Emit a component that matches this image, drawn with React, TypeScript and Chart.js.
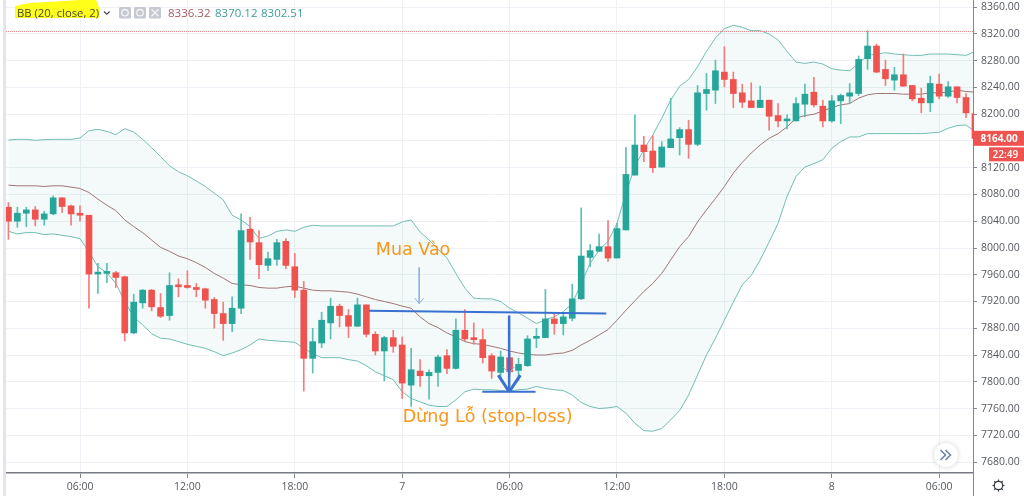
import React, { useEffect, useRef } from "react";
import { Chart, registerables } from "chart.js";

Chart.register(...registerables);

const opens = [8061,8040,8052,8057,8043,8051,8075,8063,8051,8049,7961,7962,7963,7957,7873,7918,7937,7911,7899,7944,7943,7941,7939,7923,7902,7887,7910,8028,8008,7974,7983,8010,7972,7937,7835,7858,7888,7913,7899,7883,7915,7871,7846,7866,7855,7795,7816,7809,7814,7839,7820,7877,7865,7863,7839,7814,7836,7817,7824,7865,7866,7894,7887,7895,7924,7986,7995,8002,7985,8027,8109,8154,8145,8121,8150,8165,8177,8155,8231,8236,8263,8252,8232,8220,8210,8221,8198,8190,8190,8215,8233,8212,8190,8220,8227,8231,8283,8302,8267,8251,8259,8243,8224,8217,8245,8227,8241,8225,8201];
const closes = [8040,8052,8057,8043,8051,8075,8062,8051,8049,7961,7963,7963,7956,7873,7919,7937,7912,7898,7944,7942,7941,7938,7922,7902,7887,7910,8026,8009,7975,7984,8008,7974,7937,7835,7860,7892,7913,7899,7883,7915,7871,7846,7866,7853,7798,7818,7809,7814,7837,7820,7877,7864,7863,7836,7816,7837,7815,7826,7864,7867,7894,7887,7897,7924,7988,7996,8002,7985,8029,8110,8154,8144,8120,8151,8163,8177,8155,8232,8237,8265,8252,8231,8218,8210,8221,8197,8190,8192,8216,8230,8214,8190,8220,8228,8232,8282,8302,8263,8253,8259,8242,8223,8217,8246,8227,8241,8225,8202,8164];
const highs = [8068,8061,8061,8062,8055,8078,8075,8064,8063,8049,7977,7977,7965,7958,7931,7938,7938,7932,7963,7954,7966,7947,7940,7926,7919,7927,8051,8046,8026,7994,8013,8014,7992,7950,7880,7904,7925,7916,7908,7925,7915,7875,7868,7877,7867,7850,7833,7818,7840,7848,7894,7908,7888,7879,7842,7846,7842,7835,7869,7880,7938,7902,7903,7946,8060,8005,8021,8041,8037,8150,8199,8167,8168,8159,8224,8180,8191,8243,8261,8281,8301,8263,8245,8247,8242,8221,8216,8199,8225,8245,8255,8221,8228,8230,8246,8287,8325,8305,8281,8270,8290,8243,8239,8257,8260,8249,8241,8231,8201];
const lows = [8013,8031,8032,8033,8034,8050,8053,8034,8040,7910,7932,7948,7941,7861,7872,7910,7906,7896,7892,7927,7940,7927,7910,7880,7862,7875,7902,7983,7954,7966,7974,7969,7926,7786,7813,7851,7864,7882,7866,7883,7867,7840,7801,7844,7775,7763,7793,7774,7793,7812,7819,7861,7856,7828,7805,7803,7808,7802,7823,7851,7866,7871,7870,7891,7923,7972,7995,7980,7985,8027,8109,8129,8113,8121,8150,8139,8134,8153,8206,8216,8241,8210,8210,8210,8210,8176,8181,8178,8190,8196,8211,8181,8188,8186,8216,8228,8267,8262,8243,8236,8242,8220,8202,8204,8223,8225,8217,8195,8163];

const upperBand = [8161.5,8162.5,8162.5,8161,8162,8162.5,8162.5,8162.5,8164.5,8175.4,8177.4,8174.4,8169.4,8178.4,8173.4,8162.5,8150,8136.6,8123,8114,8108,8100,8092,8082,8072,8049,8042,8032,8014.5,8018,8025,8027,8025,8031,8034,8033,8033,8033,8033,8033,8033,8033,8033,8033,8039,8042,8024,8012,7998,7985,7962,7940,7925,7924,7924,7920,7910,7903,7895,7887,7893,7897,7905,7917,7947,7977,7997,8010,8037,8082,8122,8147,8169,8194,8221,8242,8252,8271,8294,8314,8328,8333,8330,8325,8325,8320,8311,8294,8278,8276,8278,8275,8268,8266,8265,8276,8288,8290,8292,8290,8289,8288,8288,8290,8290,8290,8289,8288,8294];
const middleBand = [8094,8093,8093,8093,8092,8093,8093,8091,8089,8083,8073,8064,8056,8042,8032,8023,8012,8001,7995,7988,7984,7978,7971,7962,7955,7947,7945,7944,7941,7940,7940,7942,7943,7940,7937,7936,7936,7935,7934,7931,7927,7923,7920,7917,7913,7910,7897,7887,7881,7873,7867,7860,7857,7856,7853,7850,7846,7843,7841,7840,7840,7842,7843,7847,7855,7862,7870,7878,7892,7907,7921,7935,7947,7962,7982,8002,8017,8039,8057,8074,8092,8112,8128,8142,8154,8164,8171,8181,8194,8198,8200,8205,8210,8214,8216,8224,8229,8231,8231,8231,8230,8230,8230,8232,8232,8233,8236,8234,8233];
const lowerBand = [8025,8021,8023,8023,8020,8021,8019,8017,8014,7994,7972,7963,7947,7920,7897,7885,7872,7865,7864,7860,7856,7853,7850,7845,7839,7843,7848,7855,7864,7862,7861,7860,7859,7850,7842,7836,7836,7836,7833,7831,7824,7815,7809,7803,7785,7775,7770,7765,7763,7763,7773,7785,7789,7788,7788,7787,7786,7788,7789,7793,7790,7788,7787,7780,7769,7763,7760,7761,7763,7753,7738,7727,7726,7730,7743,7757,7780,7810,7840,7865,7892,7919,7945,7959,7982,8009,8037,8077,8107,8121,8126,8132,8149,8159,8166,8166,8171,8171,8171,8171,8171,8171,8171,8172,8173,8179,8183,8184,8174];

const yTickValues = [7680,7720,7760,7800,7840,7880,7920,7960,8000,8040,8080,8120,8160,8200,8240,8280,8320,8360];
const xTickIndexes = [8,20,32,44,56,68,80,92,104];
const xTickLabels = ["06:00","12:00","18:00","7","06:00","12:00","18:00","8","06:00"];

const legendTitle = "BB (20, close, 2)";
const legendValues = ["8336.32","8370.12","8302.51"];
const lastPrice = 8164;
const lastPriceLabel = "8164.00";
const countdownLabel = "22:49";
const highLineValue = 8323.7;

const entryLine = [{ x: 40.3, y: 7906.3 }, { x: 66.8, y: 7901.9 }];
const stopStem = [{ x: 55.95, y: 7899 }, { x: 55.95, y: 7785 }];
const stopBase = [{ x: 52.95, y: 7785 }, { x: 58.9, y: 7785 }];
const stopHeadLeft = [{ x: 54.74, y: 7810 }, { x: 55.95, y: 7785 }];
const stopHeadRight = [{ x: 57.2, y: 7810 }, { x: 55.95, y: 7785 }];
const entryArrow = [{ x: 45.9, y: 7971 }, { x: 45.9, y: 7917 }];
const entryHead = [{ x: 45.4, y: 7925 }, { x: 45.9, y: 7917 }, { x: 46.4, y: 7925 }];
const stopThinHead = [{ x: 55.3, y: 7822 }, { x: 55.95, y: 7812 }, { x: 56.5, y: 7822 }];

const notes = [
  { text: "Mua Vào", x: 41.05, y: 7989.5 },
  { text: "Dừng Lỗ (stop-loss)", x: 44.05, y: 7740 },
];

const UP = "#26a69a";
const DOWN = "#ef5350";
const UP_WICK = "#5cbfb3";
const DOWN_WICK = "#f47c7c";
const BAND = "#74bdb6";
const BLUE = "#3a70d0";
const ORANGE = "#f7971d";
const FONT = '"Open Sans", sans-serif';

const indexes = opens.map((_, i) => i);
const isUp = (i: number) => closes[i] >= opens[i];

const bandLine = (label: string, values: number[], color: string, extra: object = {}) => ({
  type: "line" as const,
  label,
  data: indexes.map((i) => ({ x: i, y: values[i] })),
  borderColor: color,
  borderWidth: 1,
  pointRadius: 0,
  tension: 0,
  order: 5,
  ...extra,
});

const markLine = (label: string, data: { x: number; y: number }[], color: string, width: number, extra: object = {}) => ({
  type: "line" as const,
  label,
  data,
  borderColor: color,
  borderWidth: width,
  pointRadius: 0,
  tension: 0,
  order: 0,
  ...extra,
});

const decor = {
  id: "decor",
  afterDatasetsDraw(chart: any) {
    const { ctx, chartArea, scales } = chart;
    const { x: xs, y: ys } = scales;
    ctx.save();
    ctx.textBaseline = "alphabetic";
    ctx.textAlign = "left";
    // annotations
    ctx.fillStyle = ORANGE;
    ctx.font = '17.5px "DejaVu Sans", sans-serif';
    notes.forEach((n) => ctx.fillText(n.text, xs.getPixelForValue(n.x), ys.getPixelForValue(n.y)));

    // left strip
    ctx.fillStyle = "#e2e4ee";
    ctx.fillRect(3, 0, 3, 496);

    // axis extension
    ctx.strokeStyle = "#84878f";
    ctx.lineWidth = 1;
    ctx.beginPath();
    ctx.moveTo(chartArea.right + 0.5, chartArea.bottom);
    ctx.lineTo(chartArea.right + 0.5, 496);
    ctx.stroke();

    // "go to realtime" button
    ctx.save();
    ctx.shadowColor = "rgba(0,0,0,0.18)";
    ctx.shadowBlur = 5;
    ctx.fillStyle = "#ffffff";
    ctx.beginPath();
    ctx.arc(946, 455, 12, 0, Math.PI * 2);
    ctx.fill();
    ctx.restore();
    ctx.strokeStyle = "#6f83a6";
    ctx.lineWidth = 1.6;
    [943, 948].forEach((cx) => {
      ctx.beginPath();
      ctx.moveTo(cx - 2.5, 450);
      ctx.lineTo(cx + 2.5, 455);
      ctx.lineTo(cx - 2.5, 460);
      ctx.stroke();
    });

    // gear
    ctx.strokeStyle = "#333842";
    ctx.lineWidth = 1.2;
    ctx.beginPath();
    ctx.arc(998.5, 485.5, 4.2, 0, Math.PI * 2);
    ctx.stroke();
    for (let k = 0; k < 8; k++) {
      const a = (k * Math.PI) / 4;
      ctx.beginPath();
      ctx.moveTo(998.5 + Math.cos(a) * 4.2, 485.5 + Math.sin(a) * 4.2);
      ctx.lineTo(998.5 + Math.cos(a) * 6, 485.5 + Math.sin(a) * 6);
      ctx.stroke();
    }

    // legend
    ctx.fillStyle = "#ffff1a";
    ctx.beginPath();
    ctx.moveTo(15, 6);
    ctx.lineTo(30, 3);
    ctx.lineTo(80, 0);
    ctx.lineTo(96, 0);
    ctx.lineTo(100, 10);
    ctx.lineTo(99, 18);
    ctx.lineTo(15, 18);
    ctx.closePath();
    ctx.fill();
    ctx.fillStyle = "#4a4a3a";
    ctx.font = `11.3px ${FONT}`;
    ctx.fillText(legendTitle, 17, 17);
    ctx.strokeStyle = "#3a3a44";
    ctx.lineWidth = 1.1;
    ctx.beginPath();
    ctx.moveTo(104, 11.5);
    ctx.lineTo(106.8, 14.3);
    ctx.lineTo(109.6, 11.5);
    ctx.stroke();
    [119, 134, 149].forEach((bx, k) => {
      ctx.fillStyle = "#c6c9d2";
      ctx.beginPath();
      ctx.roundRect(bx, 7, 12, 11.5, 1.5);
      ctx.fill();
      ctx.strokeStyle = "#f4f5f7";
      ctx.fillStyle = "#f4f5f7";
      ctx.lineWidth = 1.3;
      const cx = bx + 6;
      const cy = 12.7;
      ctx.beginPath();
      if (k === 2) {
        ctx.moveTo(cx - 3.5, cy - 3.5);
        ctx.lineTo(cx + 3.5, cy + 3.5);
        ctx.moveTo(cx + 3.5, cy - 3.5);
        ctx.lineTo(cx - 3.5, cy + 3.5);
      } else {
        ctx.arc(cx, cy, 3.2, 0, Math.PI * 2);
      }
      ctx.stroke();
    });
    ctx.font = `11.5px ${FONT}`;
    ctx.fillStyle = "#a45a5e";
    ctx.fillText(legendValues[0], 168, 17);
    ctx.fillStyle = "#3f9c96";
    ctx.fillText(legendValues[1], 215, 17);
    ctx.fillText(legendValues[2], 261, 17);

    // price labels
    const py = ys.getPixelForValue(lastPrice);
    ctx.fillStyle = DOWN;
    ctx.fillRect(973, py - 7.5, 51, 15);
    ctx.fillRect(989, py + 9, 35, 14);
    ctx.fillStyle = "#ffffff";
    ctx.font = `bold 10px ${FONT}`;
    ctx.textBaseline = "middle";
    ctx.fillText(lastPriceLabel, 980.5, py + 0.5);
    ctx.font = `600 10px ${FONT}`;
    ctx.fillText(countdownLabel, 992.5, py + 16.5);
    ctx.restore();
  },
};

export default function App() {
  const ref = useRef<HTMLCanvasElement | null>(null);
  useEffect(() => {
    if (!ref.current) return;
    const chart = new Chart(ref.current, {
      type: "bar",
      data: {
        datasets: [
          bandLine("Upper", upperBand, BAND, {
            fill: { target: 2, above: "rgba(38,166,154,0.055)", below: "rgba(38,166,154,0.055)" },
          }),
          bandLine("Basis", middleBand, "#a87272"),
          bandLine("Lower", lowerBand, BAND),
          {
            type: "bar" as const,
            label: "Wick",
            data: indexes.map((i) => ({ x: i, y: [lows[i], highs[i]] })),
            backgroundColor: indexes.map((i) => (isUp(i) ? UP_WICK : DOWN_WICK)),
            barThickness: 1,
            grouped: false,
            order: 2,
          },
          {
            type: "bar" as const,
            label: "Body",
            data: indexes.map((i) => ({ x: i, y: [Math.min(opens[i], closes[i]), Math.max(opens[i], closes[i])] })),
            backgroundColor: indexes.map((i) => (isUp(i) ? UP : DOWN)),
            barThickness: 6,
            minBarLength: 2,
            grouped: false,
            order: 1,
          },
          markLine("High", [{ x: -0.27, y: highLineValue }, { x: 107.78, y: highLineValue }], "#f08a8a", 1, { borderDash: [1, 1] }),
          markLine("Entry", entryLine, BLUE, 2),
          markLine("Stop stem", stopStem, BLUE, 2.5),
          markLine("Stop base", stopBase, BLUE, 2),
          markLine("Stop head L", stopHeadLeft, BLUE, 3),
          markLine("Stop head R", stopHeadRight, BLUE, 3),
          markLine("Entry arrow", entryArrow, "#8fb2e8", 1),
          markLine("Entry head", entryHead, "#8fb2e8", 1),
          markLine("Stop thin head", stopThinHead, "#8fb2e8", 1),
        ] as any,
      },
      plugins: [decor],
      options: {
        responsive: false,
        animation: false,
        layout: { padding: { left: 6, top: 0, right: 0, bottom: 0 } },
        plugins: { legend: { display: false }, tooltip: { enabled: false } },
        scales: {
          x: {
            type: "linear",
            offset: false,
            min: -0.27,
            max: 107.78,
            grid: { offset: false, color: "#eef2f6", lineWidth: 1, tickColor: "#84878f", tickLength: 5 },
            border: { color: "#787b84", width: 1.5 },
            afterBuildTicks: (s: any) => {
              s.ticks = xTickIndexes.map((value) => ({ value }));
            },
            afterFit: (s: any) => {
              s.height = 23;
              s.paddingLeft = 0;
              s.paddingRight = 0;
            },
            ticks: {
              autoSkip: false,
              maxRotation: 0,
              padding: 3,
              color: "#555a60",
              font: { family: '"Open Sans", sans-serif', size: 10.5 },
              callback: (v: any) => xTickLabels[xTickIndexes.indexOf(Number(v))] ?? "",
            },
          },
          y: {
            type: "linear",
            position: "right",
            min: 7663.6,
            max: 8370.8,
            grid: { color: "#eef2f6", lineWidth: 1, tickColor: "#84878f", tickLength: 4 },
            border: { color: "#84878f", width: 1 },
            afterBuildTicks: (s: any) => {
              s.ticks = yTickValues.map((value) => ({ value }));
            },
            afterFit: (s: any) => {
              s.width = 51;
              s.paddingTop = 0;
              s.paddingBottom = 0;
            },
            ticks: {
              padding: 4,
              color: "#555a60",
              font: { family: '"Open Sans", sans-serif', size: 10.5 },
              callback: (v: any) => Number(v).toFixed(2),
            },
          },
        },
      },
    });
    return () => chart.destroy();
  }, []);
  return (
    <div style={{ position: "fixed", left: 0, top: 0, width: 1024, height: 496, background: "#fff" }}>
      <canvas ref={ref} width={1024} height={496} style={{ display: "block", filter: "blur(0.3px)" }} />
    </div>
  );
}
